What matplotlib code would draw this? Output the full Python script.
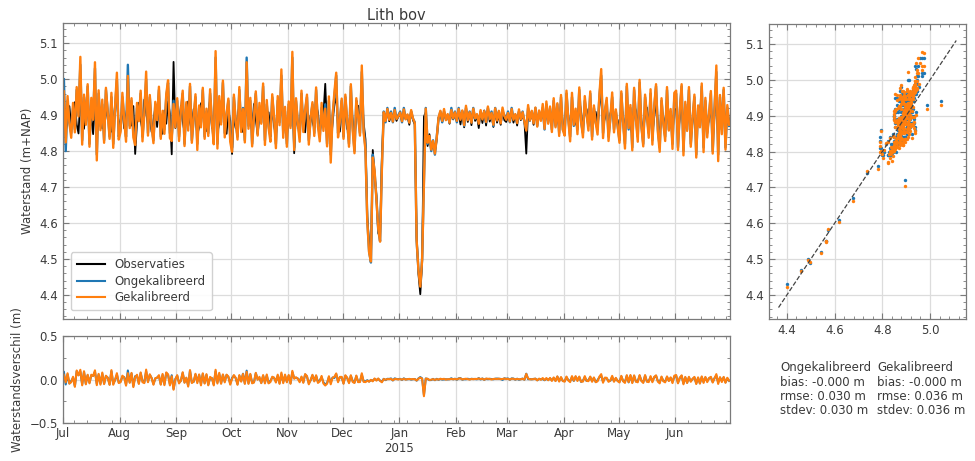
import matplotlib
matplotlib.use("Agg")
import matplotlib.pyplot as plt
import matplotlib.dates as mdates
from matplotlib.ticker import MultipleLocator, FuncFormatter
import numpy as np
import pandas as pd

# ---------------- data (daily values, 1 Jul 2014 - 30 Jun 2015) ----------------
start = "2014-07-01 12:00"

cal = [
    # Jul
    4.966, 4.824, 4.953, 4.878, 4.837, 4.934, 4.852, 4.978, 4.896, 5.062, 4.818, 4.957, 4.873, 4.986, 4.812, 4.948,
    4.887, 5.047, 4.774, 4.969, 4.858, 4.943, 4.823, 4.976, 4.907, 4.834, 4.962, 4.809, 4.924, 5.018, 4.832,
    # Aug
    4.853, 4.962, 4.887, 4.826, 5.009, 4.864, 4.947, 4.838, 4.817, 4.934, 4.883, 4.968, 4.827, 4.902, 5.021, 4.843,
    4.956, 4.868, 4.822, 4.937, 4.886, 4.979, 4.834, 4.912, 4.848, 4.958, 4.997, 4.836, 4.828, 4.931, 4.866,
    # Sep
    4.947, 4.828, 4.913, 4.968, 4.814, 4.936, 4.857, 4.987, 4.823, 4.893, 4.958, 4.803, 4.927, 4.866, 4.976, 4.834,
    4.918, 4.842, 4.972, 4.877, 4.819, 5.078, 4.807, 4.953, 4.874, 4.996, 4.838, 4.904, 4.946, 4.826,
    # Oct
    4.798, 4.957, 4.884, 4.832, 4.978, 4.853, 4.917, 4.824, 5.047, 4.862, 4.948, 4.813, 4.897, 4.966, 4.843, 4.934,
    4.876, 4.988, 4.817, 4.942, 4.864, 4.826, 4.958, 4.893, 4.808, 4.953, 4.872, 5.027, 4.837, 4.923, 4.812,
    # Nov
    4.938, 4.864, 5.076, 4.803, 4.947, 4.877, 4.826, 4.968, 4.853, 4.914, 4.957, 4.818, 4.893, 4.936, 4.842, 4.977,
    4.868, 4.827, 4.934, 4.856, 4.918, 4.813, 4.952, 4.768, 4.897, 4.963, 5.018, 4.838, 4.884, 4.946,
    # Dec
    4.834, 4.957, 4.883, 4.812, 4.986, 4.858, 4.794, 4.947, 4.896, 4.843, 5.038, 4.852, 4.803, 4.604, 4.518, 4.493,
    4.782, 4.746, 4.663, 4.584, 4.548, 4.752, 4.908, 4.884, 4.917, 4.887, 4.906, 4.882, 4.914, 4.889, 4.897,
    # Jan
    4.907, 4.883, 4.916, 4.888, 4.902, 4.879, 4.914, 4.891, 4.878, 4.552, 4.468, 4.423, 4.497, 4.704, 4.918, 4.823,
    4.842, 4.804, 4.828, 4.793, 4.837, 4.893, 4.912, 4.884, 4.917, 4.886, 4.903, 4.879, 4.914, 4.891, 4.908,
    # Feb
    4.884, 4.917, 4.887, 4.913, 4.872, 4.926, 4.886, 4.908, 4.879, 4.918, 4.891, 4.903, 4.876, 4.914, 4.888, 4.911,
    4.881, 4.924, 4.889, 4.906, 4.873, 4.919, 4.885, 4.912, 4.877, 4.921, 4.897, 4.887,
    # Mar
    4.906, 4.882, 4.917, 4.887, 4.903, 4.878, 4.916, 4.889, 4.908, 4.881, 4.857, 4.928, 4.886, 4.912, 4.877, 4.921,
    4.868, 4.913, 4.884, 4.931, 4.862, 4.938, 4.876, 4.924, 4.853, 4.947, 4.866, 4.933, 4.842, 4.956, 4.858,
    # Apr
    4.843, 4.968, 4.886, 4.827, 4.962, 4.873, 4.918, 4.847, 4.977, 4.883, 4.838, 4.953, 4.902, 4.857, 4.966, 4.832,
    4.927, 4.878, 4.846, 4.957, 5.028, 4.836, 4.912, 4.948, 4.828, 4.893, 4.963, 4.852, 4.916, 4.868,
    # May
    4.823, 4.966, 4.878, 4.807, 4.987, 4.864, 4.928, 4.802, 4.976, 4.887, 4.826, 4.998, 4.868, 4.813, 4.957, 4.896,
    4.837, 4.972, 4.818, 4.924, 4.986, 4.852, 4.798, 4.947, 4.876, 4.828, 4.978, 4.857, 4.917, 4.806, 4.962,
    # Jun
    4.968, 4.803, 4.914, 4.986, 4.788, 4.937, 4.856, 4.978, 4.812, 4.893, 4.957, 4.782, 4.927, 4.866, 4.988, 4.797,
    4.948, 4.838, 4.904, 4.967, 4.793, 4.918, 5.038, 4.772, 4.956, 4.847, 4.976, 4.804, 4.928, 4.873,
]

obs = [
    # Jul
    4.913, 4.857, 4.881, 4.925, 4.868, 4.902, 4.936, 4.874, 4.849, 4.950, 4.885, 4.862, 4.928, 4.931, 4.856, 4.893,
    4.847, 4.941, 4.839, 4.904, 4.917, 4.863, 4.876, 4.932, 4.888, 4.896, 4.854, 4.869, 4.927, 4.945, 4.873,
    # Aug
    4.884, 4.918, 4.863, 4.897, 4.936, 4.902, 4.871, 4.925, 4.792, 4.879, 4.934, 4.886, 4.858, 4.943, 4.907, 4.874,
    4.896, 4.853, 4.882, 4.921, 4.867, 4.929, 4.894, 4.848, 4.913, 4.876, 4.938, 4.904, 4.791, 5.048, 4.864,
    # Sep
    4.897, 4.873, 4.926, 4.884, 4.852, 4.914, 4.938, 4.879, 4.863, 4.917, 4.892, 4.845, 4.868, 4.933, 4.905, 4.881,
    4.856, 4.909, 4.942, 4.864, 4.887, 4.966, 4.853, 4.876, 4.923, 4.937, 4.871, 4.848, 4.912, 4.885,
    # Oct
    4.792, 4.906, 4.864, 4.893, 4.927, 4.878, 4.853, 4.874, 4.958, 4.912, 4.883, 4.857, 4.931, 4.889, 4.846, 4.903,
    4.918, 4.937, 4.862, 4.884, 4.908, 4.855, 4.926, 4.871, 4.843, 4.897, 4.922, 4.947, 4.879, 4.866, 4.844,
    # Nov
    4.886, 4.913, 4.976, 4.794, 4.921, 4.868, 4.857, 4.934, 4.891, 4.852, 4.917, 4.873, 4.899, 4.882, 4.864, 4.928,
    4.907, 4.849, 4.893, 4.902, 4.987, 4.861, 4.914, 4.823, 4.877, 4.932, 4.948, 4.869, 4.854, 4.916,
    # Dec
    4.883, 4.908, 4.862, 4.854, 4.937, 4.886, 4.834, 4.901, 4.926, 4.872, 4.966, 4.879, 4.833, 4.618, 4.543, 4.497,
    4.803, 4.734, 4.676, 4.572, 4.563, 4.784, 4.902, 4.887, 4.912, 4.883, 4.898, 4.891, 4.907, 4.884, 4.896,
    # Jan
    4.902, 4.884, 4.907, 4.889, 4.897, 4.873, 4.911, 4.886, 4.874, 4.563, 4.458, 4.402, 4.487, 4.896, 4.908, 4.814,
    4.847, 4.806, 4.823, 4.798, 4.832, 4.894, 4.903, 4.881, 4.909, 4.887, 4.899, 4.876, 4.906, 4.888, 4.901,
    # Feb
    4.883, 4.906, 4.874, 4.912, 4.866, 4.917, 4.881, 4.908, 4.872, 4.914, 4.884, 4.897, 4.864, 4.909, 4.878, 4.913,
    4.871, 4.916, 4.882, 4.905, 4.867, 4.911, 4.879, 4.902, 4.873, 4.915, 4.886, 4.881,
    # Mar
    4.898, 4.883, 4.907, 4.879, 4.902, 4.871, 4.913, 4.886, 4.899, 4.882, 4.793, 4.916, 4.884, 4.908, 4.873, 4.911,
    4.878, 4.903, 4.887, 4.914, 4.868, 4.921, 4.885, 4.906, 4.869, 4.923, 4.884, 4.897, 4.866, 4.928, 4.876,
    # Apr
    4.868, 4.934, 4.897, 4.857, 4.923, 4.886, 4.879, 4.864, 4.943, 4.908, 4.862, 4.914, 4.917, 4.876, 4.932, 4.858,
    4.903, 4.909, 4.867, 4.924, 4.966, 4.873, 4.891, 4.928, 4.855, 4.904, 4.921, 4.878, 4.897, 4.886,
    # May
    4.857, 4.924, 4.898, 4.846, 4.937, 4.893, 4.876, 4.843, 4.928, 4.912, 4.858, 4.947, 4.884, 4.852, 4.906, 4.921,
    4.867, 4.933, 4.849, 4.894, 4.938, 4.877, 4.842, 4.913, 4.896, 4.861, 4.942, 4.874, 4.892, 4.847, 4.918,
    # Jun
    4.916, 4.847, 4.893, 4.938, 4.843, 4.907, 4.896, 4.947, 4.838, 4.884, 4.927, 4.834, 4.902, 4.913, 4.952, 4.836,
    4.918, 4.868, 4.887, 4.936, 4.828, 4.904, 4.976, 4.823, 4.929, 4.876, 4.946, 4.842, 4.908, 4.886,
]

unc = [
    # Jul
    5.00, 4.80, 4.94, 4.88, 4.85, 4.92, 4.86, 4.97, 4.90, 5.04, 4.83, 4.95, 4.88, 4.98, 4.82, 4.94, 4.89, 5.03, 4.79, 4.96,
    4.87, 4.93, 4.83, 4.97, 4.91, 4.84, 4.95, 4.82, 4.92, 5.00, 4.84,
    # Aug
    4.86, 4.95, 4.89, 4.84, 5.04, 4.87, 4.94, 4.85, 4.83, 4.92, 4.89, 4.96, 4.84, 4.91, 5.00, 4.85, 4.95, 4.87, 4.83, 4.93,
    4.89, 4.97, 4.84, 4.90, 4.86, 4.95, 4.99, 4.85, 4.84, 4.94, 4.87,
    # Sep
    4.94, 4.84, 4.91, 4.96, 4.82, 4.93, 4.87, 4.98, 4.83, 4.89, 4.95, 4.82, 4.92, 4.88, 4.97, 4.84, 4.91, 4.85, 4.96, 4.88,
    4.83, 5.06, 4.82, 4.94, 4.88, 4.99, 4.85, 4.90, 4.94, 4.84,
    # Oct
    4.81, 4.95, 4.88, 4.84, 4.97, 4.86, 4.92, 4.83, 5.06, 4.87, 4.94, 4.82, 4.90, 4.96, 4.85, 4.92, 4.88, 4.98, 4.83, 4.93,
    4.87, 4.84, 4.95, 4.89, 4.82, 4.94, 4.88, 5.01, 4.85, 4.91, 4.82,
    # Nov
    4.93, 4.87, 5.06, 4.81, 4.94, 4.88, 4.84, 4.96, 4.86, 4.91, 4.95, 4.83, 4.89, 4.93, 4.85, 4.97, 4.88, 4.84, 4.92, 4.87,
    4.93, 4.82, 4.94, 4.79, 4.90, 4.95, 5.01, 4.85, 4.88, 4.94,
    # Dec
    4.84, 4.95, 4.88, 4.82, 4.98, 4.87, 4.80, 4.94, 4.90, 4.85, 5.02, 4.86, 4.81, 4.61, 4.52, 4.49, 4.79, 4.74, 4.67, 4.58,
    4.55, 4.76, 4.91, 4.88, 4.92, 4.89, 4.91, 4.88, 4.92, 4.89, 4.90,
    # Jan
    4.91, 4.88, 4.92, 4.89, 4.90, 4.88, 4.91, 4.89, 4.88, 4.55, 4.47, 4.43, 4.50, 4.72, 4.92, 4.82, 4.84, 4.80, 4.83, 4.79,
    4.84, 4.89, 4.91, 4.88, 4.91, 4.89, 4.90, 4.88, 4.92, 4.89, 4.91,
    # Feb
    4.88, 4.92, 4.89, 4.91, 4.87, 4.92, 4.89, 4.91, 4.88, 4.92, 4.89, 4.90, 4.88, 4.91, 4.89, 4.91, 4.88, 4.92, 4.89, 4.91,
    4.87, 4.92, 4.89, 4.91, 4.88, 4.91, 4.90, 4.89,
    # Mar
    4.91, 4.88, 4.92, 4.89, 4.90, 4.88, 4.91, 4.89, 4.91, 4.88, 4.86, 4.92, 4.89, 4.91, 4.88, 4.92, 4.87, 4.91, 4.89, 4.92,
    4.86, 4.93, 4.88, 4.92, 4.86, 4.94, 4.87, 4.93, 4.85, 4.95, 4.86,
    # Apr
    4.85, 4.96, 4.89, 4.84, 4.95, 4.87, 4.91, 4.86, 4.97, 4.88, 4.85, 4.94, 4.90, 4.87, 4.96, 4.84, 4.92, 4.88, 4.86, 4.95,
    5.01, 4.85, 4.91, 4.94, 4.84, 4.89, 4.95, 4.86, 4.91, 4.87,
    # May
    4.83, 4.96, 4.88, 4.82, 4.98, 4.86, 4.92, 4.81, 4.97, 4.89, 4.84, 4.99, 4.87, 4.82, 4.95, 4.90, 4.85, 4.96, 4.83, 4.92,
    4.98, 4.86, 4.81, 4.94, 4.88, 4.84, 4.97, 4.86, 4.91, 4.82, 4.95,
    # Jun
    4.96, 4.81, 4.91, 4.98, 4.80, 4.93, 4.86, 4.97, 4.82, 4.89, 4.95, 4.79, 4.92, 4.87, 4.98, 4.81, 4.94, 4.85, 4.90, 4.96,
    4.80, 4.92, 5.02, 4.79, 4.95, 4.86, 4.97, 4.81, 4.92, 4.87,
]

series_labels = ["Observaties", "Ongekalibreerd", "Gekalibreerd"]
stats_unc = ["Ongekalibreerd", "bias: -0.000 m", "rmse: 0.030 m", "stdev: 0.030 m"]
stats_cal = ["Gekalibreerd", "bias: -0.000 m", "rmse: 0.036 m", "stdev: 0.036 m"]
diag = [4.365, 5.11]
title = "Lith bov"

# ---------------- figure ----------------
C_OBS, C_UNC, C_CAL = "black", "#1f77b4", "#ff7f0e"
TXT = "#3a3a3a"
SPN = "#7a7a7a"
GRID = "#dcdcdc"
FS = 8.5

plt.rcParams.update({
    "font.family": ["DejaVu Sans"],
    "font.size": FS,
    "text.color": TXT,
    "axes.labelcolor": TXT,
    "xtick.color": SPN,
    "ytick.color": SPN,
    "xtick.labelcolor": TXT,
    "ytick.labelcolor": TXT,
})

n = min(len(cal), len(obs), len(unc))
times = pd.date_range(start, periods=n, freq="D")
obs_a, unc_a, cal_a = np.array(obs[:n]), np.array(unc[:n]), np.array(cal[:n])

fig = plt.figure(figsize=(9.75, 4.61), dpi=100)
ax = fig.add_axes([0.0646, 0.308, 0.6841, 0.642])
axd = fig.add_axes([0.0646, 0.0824, 0.6841, 0.1887], sharex=ax)
axs = fig.add_axes([0.7887, 0.308, 0.2021, 0.6399])


def style(a):
    for s in a.spines.values():
        s.set_color(SPN)
        s.set_linewidth(0.9)
    a.tick_params(which="both", direction="in", top=True, right=True, labelsize=FS)
    a.tick_params(which="major", length=4, width=0.8)
    a.tick_params(which="minor", length=2, width=0.6)
    a.grid(True, which="major", color=GRID, linewidth=0.9)
    a.set_axisbelow(True)


lw = 1.7
ax.plot(times, obs_a, color=C_OBS, lw=1.3, label=series_labels[0])
ax.plot(times, unc_a, color=C_UNC, lw=lw, label=series_labels[1])
ax.plot(times, cal_a, color=C_CAL, lw=lw, label=series_labels[2])
ax.set_ylim(4.333, 5.156)
ax.set_xlim(pd.Timestamp("2014-07-01"), pd.Timestamp("2015-06-30 23:00"))
ax.yaxis.set_major_locator(MultipleLocator(0.1))
ax.yaxis.set_minor_locator(MultipleLocator(0.02))
ax.set_ylabel("Waterstand (m+NAP)", fontsize=FS)
ax.set_title(title, fontsize=10.5, pad=2, color=TXT)
leg = ax.legend(loc="lower left", fontsize=FS, frameon=True, framealpha=0.9,
                edgecolor="#cccccc", handlelength=2.4, borderpad=0.5,
                labelspacing=0.3, bbox_to_anchor=(0.003, 0.01))
for t in leg.get_texts():
    t.set_color(TXT)
for h in leg.get_lines():
    h.set_linewidth(1.5)
style(ax)
plt.setp(ax.get_xticklabels(), visible=False)

axd.plot(times, unc_a - obs_a, color=C_UNC, lw=1.5)
axd.plot(times, cal_a - obs_a, color=C_CAL, lw=1.5)
axd.set_ylim(-0.5, 0.5)
axd.yaxis.set_major_locator(MultipleLocator(0.5))
axd.yaxis.set_minor_locator(MultipleLocator(0.25))
axd.set_ylabel("Waterstandsverschil (m)", fontsize=FS)
style(axd)

axd.xaxis.set_major_locator(mdates.MonthLocator())
axd.xaxis.set_minor_locator(mdates.WeekdayLocator(byweekday=mdates.MO))


def mfmt(x, pos=None):
    d = mdates.num2date(x)
    s = d.strftime("%b")
    if d.month == 1:
        s += "\n" + d.strftime("%Y")
    return s


axd.xaxis.set_major_formatter(FuncFormatter(mfmt))
axd.tick_params(axis="x", pad=3)

axs.scatter(obs_a, unc_a, s=6, color=C_UNC, linewidths=0, zorder=2)
axs.scatter(obs_a, cal_a, s=6, color=C_CAL, linewidths=0, zorder=3)
axs.plot(diag, diag, ls="--", color="#444444", lw=0.9, zorder=4)
axs.set_xlim(4.325, 5.151)
axs.set_ylim(4.333, 5.156)
axs.xaxis.set_major_locator(MultipleLocator(0.2))
axs.xaxis.set_minor_locator(MultipleLocator(0.04))
axs.yaxis.set_major_locator(MultipleLocator(0.1))
axs.yaxis.set_minor_locator(MultipleLocator(0.02))
axs.xaxis.set_major_formatter(FuncFormatter(lambda v, p: f"{v:.1f}"))
style(axs)

fig.text(780 / 975, 1 - 361 / 461, "\n".join(stats_unc), fontsize=FS,
         va="top", ha="left", linespacing=1.15, color=TXT)
fig.text(877 / 975, 1 - 361 / 461, "\n".join(stats_cal), fontsize=FS,
         va="top", ha="left", linespacing=1.15, color=TXT)

fig.savefig("out.png", dpi=100)
